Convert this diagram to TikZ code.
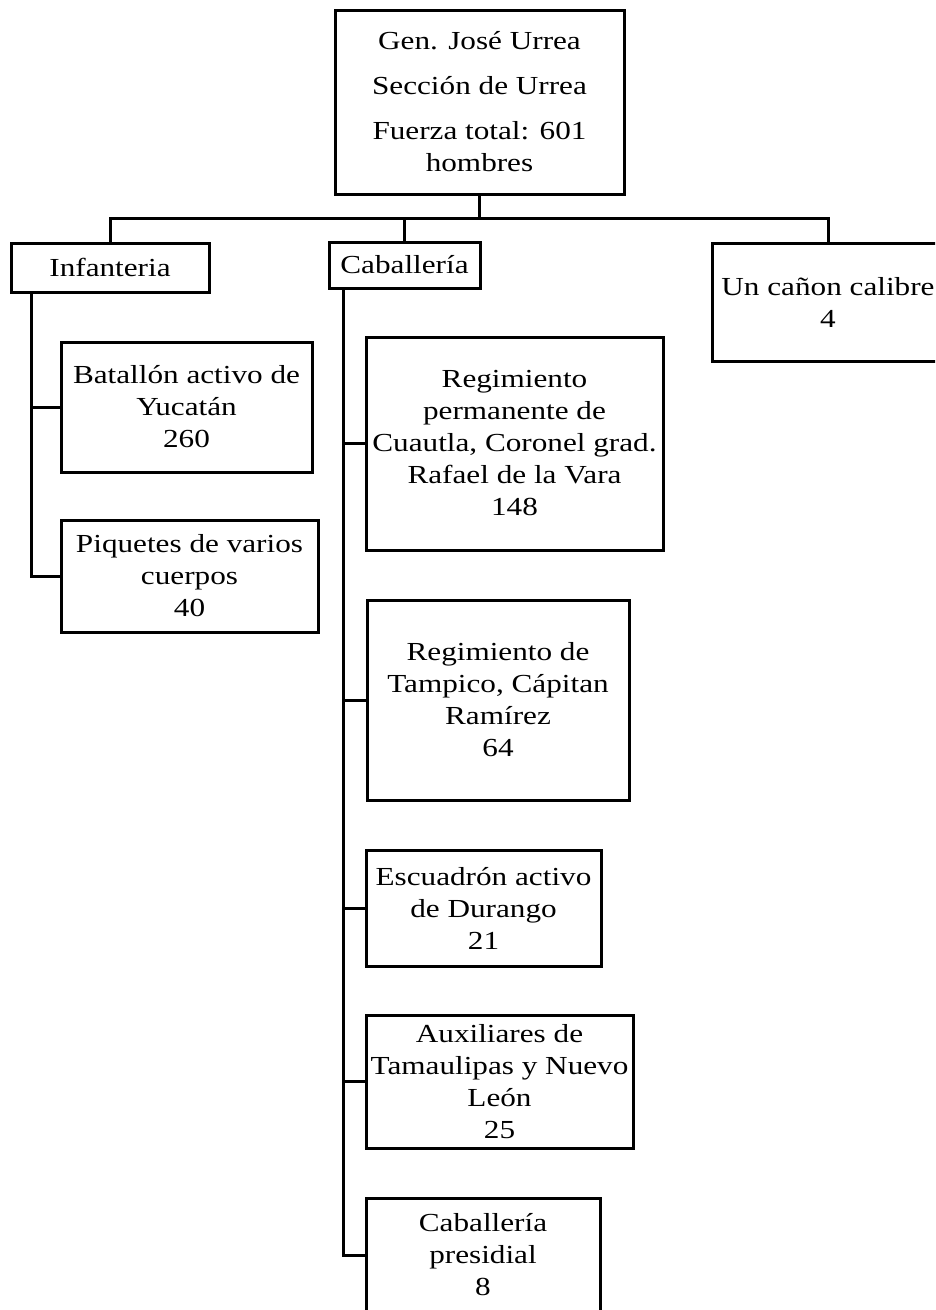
\documentclass[tikz,border=0pt]{standalone}
\usepackage{fontspec}
\setmainfont{Liberation Serif}[FakeStretch=1.2]
\begin{document}
\begin{tikzpicture}[x=1pt,y=-1pt,
  every node/.style={font=\fontsize{26}{32}\selectfont},
  unit/.style={draw=black, line width=3pt, rectangle, inner sep=0pt,
    align=center, minimum width=#1},
  link/.style={line width=3pt, line cap=rect}]
\useasboundingbox (0,0) rectangle (935,1310);
\clip (0,0) rectangle (935,1310);

% command
\node[unit=289, minimum height=184] (top) at (479.5,102)
  {Gen. José Urrea\\[13pt]Sección de Urrea\\[13pt]Fuerza total: 601\\hombres};

% arms
\node[unit=198, minimum height=49] (inf) at (110,267.5) {Infanteria};
\node[unit=151, minimum height=46] (cab) at (404.5,265) {Caballería};
\node[unit=232, minimum height=118] (can) at (828,302) {Un cañon calibre\\4};

% infantry units
\node[unit=251, minimum height=130] (bat) at (186.5,407) {Batallón activo de\\Yucatán\\260};
\node[unit=257, minimum height=112] (piq) at (189.5,576) {Piquetes de varios\\cuerpos\\40};

% cavalry units
\node[unit=297, minimum height=213] (cua) at (514.5,443.5)
  {Regimiento\\permanente de\\Cuautla, Coronel grad.\\Rafael de la Vara\\148};
\node[unit=262, minimum height=200] (tam) at (498,700)
  {Regimiento de\\Tampico, Cápitan\\Ramírez\\64};
\node[unit=235, minimum height=116] (esc) at (483.5,908)
  {Escuadrón activo\\de Durango\\21};
\node[unit=267, minimum height=133] (aux) at (499.5,1081.5)
  {Auxiliares de\\Tamaulipas y Nuevo\\León\\25};
\node[unit=234, minimum height=114] (pre) at (483,1255)
  {Caballería\\presidial\\8};

% tree from the command box
\coordinate (bar) at (479.5,218);
\draw[link] (top.south) -- (bar);
\draw[link] (inf.north) |- (bar) -| (can.north);
\draw[link] (cab.north) -- (cab.north |- bar);

% infantry spine
\draw[link] ([xshift=22pt]inf.south west) |- (piq.west);
\draw[link] ([xshift=22pt]inf.south west) |- (bat.west);

% cavalry spine
\draw[link] ([xshift=16pt]cab.south west) |- (pre.west);
\foreach \n in {cua,tam,esc,aux}
  \draw[link] ([xshift=16pt]cab.south west) |- (\n.west);
\end{tikzpicture}
\end{document}
